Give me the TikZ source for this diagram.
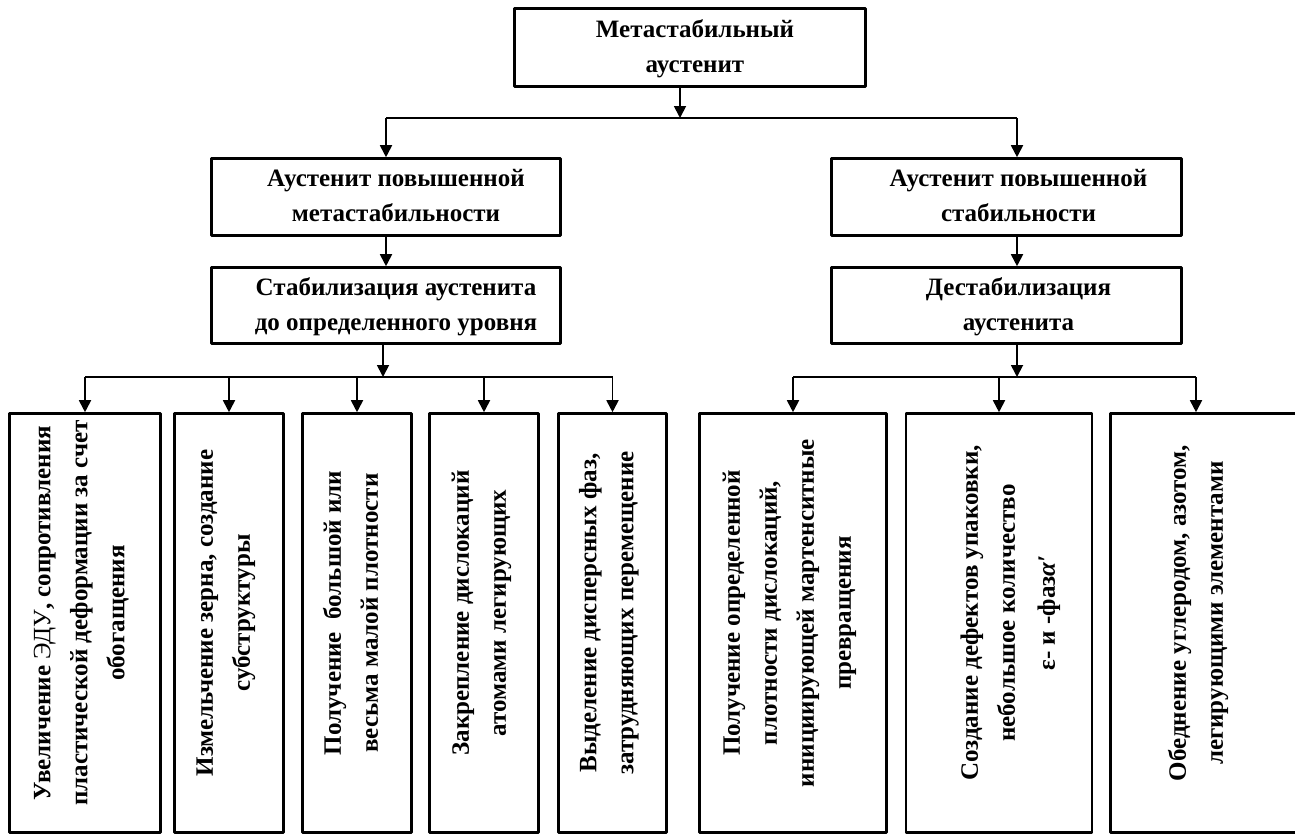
\documentclass[tikz,border=0pt]{standalone}
\usepackage{fontspec}
\setmainfont{Liberation Serif}
\usepackage{graphicx}
\usetikzlibrary{arrows.meta}
\newcommand{\htxt}[2]{\hspace*{#1}\begin{tabular}{@{}c@{}}#2\end{tabular}}
\newcommand{\vtxt}[2]{\hspace*{#1}\rotatebox{90}{\hspace*{20pt}\begin{tabular}{@{}c@{}}#2\end{tabular}}}
\begin{document}
\begin{tikzpicture}[x=1pt, y=-1pt, line join=round,
	box/.style={draw, line width=2.6pt, inner sep=0pt},
	mid/.style={box, font=\bfseries\fontsize{25}{35}\selectfont},
	tall/.style={box, minimum height=419pt, font=\bfseries\fontsize{25}{37}\selectfont},
	bus/.style={line width=1.8pt},
	link/.style={bus, -{Triangle[width=12pt,length=12pt]}}]
	\useasboundingbox (0,0) rectangle (1295,836);
	\node[mid, minimum width=351pt, minimum height=78pt] (top) at (690,47.5) {\htxt{10pt}{Метастабильный\\аустенит}};
	\node[mid, minimum width=349pt, minimum height=77pt] (lmid1) at (386,197) {\htxt{20pt}{Аустенит повышенной\\метастабильности}};
	\node[mid, minimum width=349pt, minimum height=76pt] (lmid2) at (386,305.5) {\htxt{20pt}{Стабилизация аустенита\\до определенного уровня}};
	\node[mid, minimum width=350pt, minimum height=77pt] (rmid1) at (1006.5,197) {\htxt{24pt}{Аустенит повышенной\\стабильности}};
	\node[mid, minimum width=350pt, minimum height=76pt] (rmid2) at (1006.5,305.5) {\htxt{24pt}{Дестабилизация\\аустенита}};
	\node[tall, minimum width=151pt] (b1) at (85,623) {\vtxt{-10pt}{Увеличение {\mdseries ЭДУ}, сопротивления\\пластической деформации за счет\\обогащения}};
	\node[tall, minimum width=109pt] (b2) at (229,623) {\vtxt{-10pt}{Измельчение зерна, создание\\субструктуры}};
	\node[tall, minimum width=109pt] (b3) at (357,623) {\vtxt{-10pt}{Получение\ \ большой или\\весьма малой плотности}};
	\node[tall, minimum width=109pt] (b4) at (484,623) {\vtxt{-8pt}{Закрепление дислокаций\\атомами легирующих}};
	\node[tall, minimum width=108pt] (b5) at (612.5,623) {\vtxt{-10pt}{Выделение дисперсных фаз,\\затрудняющих перемещение}};
	\node[tall, minimum width=187pt] (b6) at (793,623) {\vtxt{-10pt}{Получение определенной\\плотности дислокаций,\\инициирующей мартенситные\\превращения}};
	\node[tall, minimum width=186pt] (b7) at (999,623) {\vtxt{20pt}{Создание дефектов упаковки,\\небольшое количество\\[3pt]ε- и -фаз\textit{α′}}};
	\node[tall, minimum width=187pt] (b8) at (1204,623) {\vtxt{-14pt}{Обеднение углеродом, азотом,\\легирующими элементами}};
	\coordinate (tj) at (680,118);
	\coordinate (lj) at (383,377);
	\coordinate (rj) at (1017,377);
	\draw[link] (top.south -| tj) -- (tj);
	\draw[bus] (lmid1.north |- tj) -- (rj |- tj);
	\draw[link] (lmid1.north |- tj) -- (lmid1.north);
	\draw[link] (rj |- tj) -- (rj |- rmid1.north);
	\draw[link] (lmid1) -- (lmid2);
	\draw[link] (rj |- rmid1.south) -- (rj |- rmid2.north);
	\draw[link] (lj |- lmid2.south) -- (lj);
	\draw[bus] (b1.north |- lj) -- (b5.north |- lj);
	\foreach \b in {b1,b2,b3,b4,b5}
		\draw[link] (\b.north |- lj) -- (\b.north);
	\draw[link] (rj |- rmid2.south) -- (rj);
	\draw[bus] (b6.north |- rj) -- ([xshift=-8pt]b8.north |- rj);
	\foreach \b in {b6,b7}
		\draw[link] (\b.north |- rj) -- (\b.north);
	\draw[link] ([xshift=-8pt]b8.north |- rj) -- ([xshift=-8pt]b8.north);
\end{tikzpicture}
\end{document}
